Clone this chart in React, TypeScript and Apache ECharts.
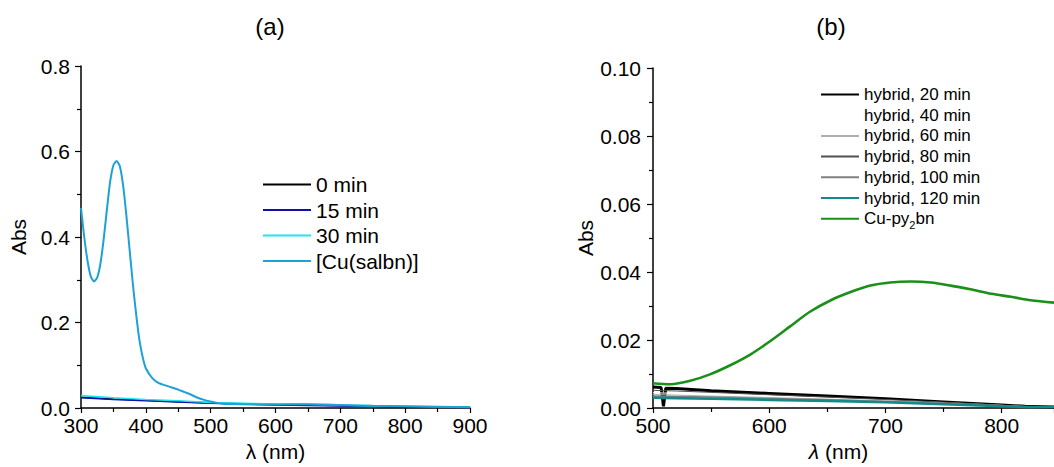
import React, { useEffect, useRef } from "react";
import * as echarts from "echarts";

// ---------- Panel (a) data ----------
const salbnWl = [300, 305, 310, 315, 320, 325, 330, 335, 340, 345, 350, 355, 360, 365, 370, 375, 380, 385, 390, 395, 400, 410, 420, 430, 440, 450, 460, 470, 480, 490, 500, 510, 520, 550, 600, 650, 700, 750, 800, 850, 900];
const salbnAbs = [0.468, 0.40, 0.345, 0.308, 0.296, 0.305, 0.338, 0.395, 0.465, 0.53, 0.568, 0.578, 0.565, 0.52, 0.45, 0.37, 0.29, 0.22, 0.16, 0.12, 0.093, 0.070, 0.058, 0.053, 0.048, 0.043, 0.037, 0.031, 0.024, 0.019, 0.015, 0.012, 0.010, 0.009, 0.008, 0.009, 0.007, 0.005, 0.004, 0.003, 0.002];
const timeWl = [300, 350, 400, 450, 500, 550, 600, 650, 700, 750, 800, 850, 900];
const abs0min = [0.025, 0.021, 0.018, 0.015, 0.012, 0.010, 0.008, 0.007, 0.006, 0.004, 0.003, 0.002, 0.002];
const abs15min = [0.024, 0.020, 0.017, 0.014, 0.011, 0.009, 0.007, 0.006, 0.005, 0.004, 0.003, 0.002, 0.001];
const abs30min = [0.029, 0.024, 0.020, 0.017, 0.013, 0.011, 0.009, 0.009, 0.007, 0.005, 0.004, 0.003, 0.002];
const aTicksY = [0, 0.2, 0.4, 0.6, 0.8];
const aTicksX = [300, 400, 500, 600, 700, 800, 900];

// ---------- Panel (b) data ----------
const h20Wl = [500, 507, 509, 511, 520, 550, 600, 650, 700, 750, 800, 820, 845];
const h20Abs = [0.0062, 0.0060, 0.0005, 0.0058, 0.0057, 0.0051, 0.0043, 0.0035, 0.0027, 0.0018, 0.0009, 0.0005, 0.0003];
const hybridWl = [500, 520, 550, 600, 650, 700, 750, 800, 820, 845];
const h40Abs = [0.0045, 0.0043, 0.0040, 0.0035, 0.0029, 0.0023, 0.0016, 0.0008, 0.0004, 0.0003];
const h60Abs = [0.0040, 0.0038, 0.0035, 0.0031, 0.0026, 0.0021, 0.0015, 0.0007, 0.0004, 0.0003];
const h80Abs = [0.0052, 0.0050, 0.0046, 0.0039, 0.0032, 0.0025, 0.0017, 0.0008, 0.0004, 0.0003];
const h100Abs = [0.0035, 0.0034, 0.0032, 0.0028, 0.0024, 0.0019, 0.0013, 0.0006, 0.0004, 0.0003];
const h120Abs = [0.0030, 0.0029, 0.0027, 0.0024, 0.0021, 0.0017, 0.0011, 0.0005, 0.0003, 0.0003];
const cuWl = [500, 515, 532, 549, 566, 584, 601, 618, 635, 653, 670, 687, 704, 722, 739, 756, 773, 791, 808, 825, 845];
const cuAbs = [0.0073, 0.0070, 0.0080, 0.0099, 0.0125, 0.0158, 0.0197, 0.0240, 0.0283, 0.0317, 0.0341, 0.0360, 0.0369, 0.0372, 0.0369, 0.0360, 0.0349, 0.0336, 0.0327, 0.0317, 0.0310];
const bTicksY = [0, 0.02, 0.04, 0.06, 0.08, 0.1];
const bTicksX = [500, 600, 700, 800];

const FONT = '"Liberation Sans", Arial, Helvetica, sans-serif';

const pairs = (xs: number[], ys: number[]) => xs.map((x, i) => [x, ys[i]]);

const axisCommon = {
  axisLine: { show: true, onZero: false, lineStyle: { color: "#000", width: 1.5 } },
  axisTick: { show: true, inside: false, length: 6, lineStyle: { color: "#000", width: 1.2 } },
  minorTick: { show: true, splitNumber: 2, length: 4, lineStyle: { color: "#000", width: 1.2 } },
  splitLine: { show: false },
  minorSplitLine: { show: false },
};

export default function App() {
  const ref = useRef<HTMLDivElement>(null);
  useEffect(() => {
    if (!ref.current) return;
    const chart = echarts.init(ref.current, undefined, { renderer: "svg" });
    const labelStyle = { color: "#000", fontSize: 21, fontFamily: FONT };
    const line = (name: string, data: number[][], color: string, width: number, x: number, smooth: number | boolean = false) => ({
      name,
      type: "line",
      xAxisIndex: x,
      yAxisIndex: x,
      data,
      smooth,
      showSymbol: false,
      symbol: "none",
      lineStyle: { color, width },
      itemStyle: { color },
      silent: true,
    });
    chart.setOption({
      animation: false,
      backgroundColor: "#fff",
      textStyle: { fontFamily: FONT },
      title: [
        { text: "(a)", left: 265, top: 9, textAlign: "center", textStyle: { fontSize: 24, fontWeight: "normal", color: "#000", fontFamily: FONT } },
        { text: "(b)", left: 826, top: 9, textAlign: "center", textStyle: { fontSize: 24, fontWeight: "normal", color: "#000", fontFamily: FONT } },
      ],
      grid: [
        { left: 81, right: 584, top: 66, bottom: 57 },
        { left: 653, right: 0, top: 68, bottom: 57 },
      ],
      xAxis: [
        {
          ...axisCommon,
          gridIndex: 0,
          type: "value",
          min: aTicksX[0],
          max: aTicksX[aTicksX.length - 1],
          interval: 100,
          axisTick: { ...axisCommon.axisTick, length: 5 },
          minorTick: { ...axisCommon.minorTick, length: 4 },
          axisLabel: { ...labelStyle, margin: 7 },
          name: "λ (nm)",
          nameLocation: "middle",
          nameGap: 33,
          nameTextStyle: { ...labelStyle },
        },
        {
          ...axisCommon,
          gridIndex: 1,
          type: "value",
          min: bTicksX[0],
          max: 845,
          interval: 100,
          axisTick: { ...axisCommon.axisTick, length: 5 },
          minorTick: { ...axisCommon.minorTick, length: 4 },
          axisLabel: { ...labelStyle, margin: 7, showMaxLabel: false },
          name: "{i|λ} (nm)",
          nameLocation: "middle",
          nameGap: 33,
          nameTextStyle: { ...labelStyle, padding: [0, 30, 0, 0], rich: { i: { fontStyle: "italic", fontSize: 21, fontFamily: FONT, color: "#000" } } },
        },
      ],
      yAxis: [
        {
          ...axisCommon,
          gridIndex: 0,
          type: "value",
          min: aTicksY[0],
          max: aTicksY[aTicksY.length - 1],
          interval: 0.2,
          axisLabel: { ...labelStyle, margin: 11, formatter: (v: number) => v.toFixed(1) },
          name: "Abs",
          nameLocation: "middle",
          nameGap: 52,
          nameTextStyle: { ...labelStyle },
        },
        {
          ...axisCommon,
          gridIndex: 1,
          type: "value",
          min: bTicksY[0],
          max: bTicksY[bTicksY.length - 1],
          interval: 0.02,
          axisLabel: { ...labelStyle, margin: 12, formatter: (v: number) => v.toFixed(2) },
          name: "Abs",
          nameLocation: "middle",
          nameGap: 57,
          nameTextStyle: { ...labelStyle },
        },
      ],
      legend: [
        {
          orient: "vertical",
          left: 262,
          top: 174,
          padding: 0,
          itemWidth: 48,
          itemHeight: 21,
          itemGap: 4.5,
          selectedMode: false,
          itemStyle: { opacity: 0 },
          textStyle: { color: "#000", fontSize: 21, lineHeight: 21, fontFamily: FONT },
          data: ["0 min", "15 min", "30 min", "[Cu(salbn)]"],
        },
        {
          orient: "vertical",
          left: 820,
          top: 86,
          padding: 0,
          itemWidth: 38,
          itemHeight: 17,
          itemGap: 3.7,
          selectedMode: false,
          itemStyle: { opacity: 0 },
          textStyle: {
            color: "#000",
            fontSize: 17,
            lineHeight: 17,
            fontFamily: FONT,
            rich: {
              t: { fontSize: 17, color: "#000", fontFamily: FONT },
              s: { fontSize: 11, color: "#000", fontFamily: FONT, verticalAlign: "bottom", padding: [0, 0, -3, 0] },
            },
          },
          formatter: (n: string) => (n === "Cu-py2bn" ? "{t|Cu-py}{s|2}{t|bn}" : n),
          data: ["hybrid, 20 min", "hybrid, 40 min", "hybrid, 60 min", "hybrid, 80 min", "hybrid, 100 min", "hybrid, 120 min", "Cu-py2bn"],
        },
      ],
      series: [
        line("0 min", pairs(timeWl, abs0min), "#000000", 1.6, 0),
        line("15 min", pairs(timeWl, abs15min), "#1010a8", 1.6, 0),
        line("30 min", pairs(timeWl, abs30min), "#18e8f0", 1.6, 0),
        line("[Cu(salbn)]", pairs(salbnWl, salbnAbs), "#1ea2d6", 2, 0, 0.2),
        line("hybrid, 20 min", pairs(h20Wl, h20Abs), "#000000", 3, 1),
        line("hybrid, 40 min", pairs(hybridWl, h40Abs), "#ffffff", 1, 1),
        line("hybrid, 60 min", pairs(hybridWl, h60Abs), "#b0b0b0", 1, 1),
        line("hybrid, 80 min", pairs(hybridWl, h80Abs), "#505050", 1, 1),
        line("hybrid, 100 min", pairs(hybridWl, h100Abs), "#808080", 1.6, 1),
        line("hybrid, 120 min", pairs(hybridWl, h120Abs), "#138a8a", 2.6, 1),
        line("Cu-py2bn", pairs(cuWl, cuAbs), "#1a8f1a", 2.6, 1, 0.3),
      ],
    });
    return () => chart.dispose();
  }, []);
  return <div ref={ref} style={{ position: "absolute", left: 0, top: 0, width: 1054, height: 467 }} />;
}
